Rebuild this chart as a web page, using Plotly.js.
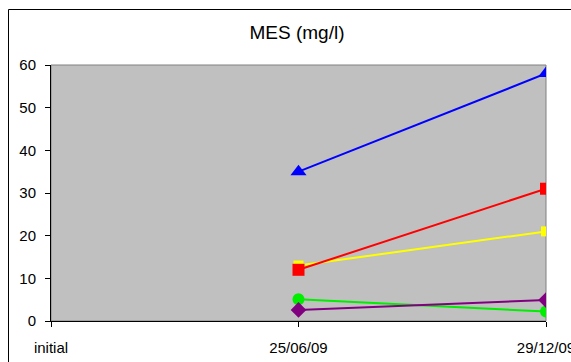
<!DOCTYPE html>
<html><head><meta charset="utf-8">
<script src="https://cdn.plot.ly/plotly-3.0.1.min.js"></script>
<style>body{margin:0;background:#fff}#c{width:571px;height:362px}</style>
</head><body><div id="c"></div>
<script>
var categories = ["initial", "25/06/09", "29/12/09"];
var blueVals   = [null, 35, 58];
var redVals    = [null, 12, 31];
var yellowVals = [null, 13, 21];
var greenVals  = [null, 5.1, 2.2];
var purpleVals = [null, 2.6, 4.9];
var yTicks = [0, 10, 20, 30, 40, 50, 60];

function tr(y, color, symbol, size) {
  return {x: categories, y: y, type: 'scatter', mode: 'lines+markers',
    line: {color: color, width: 2}, marker: {color: color, symbol: symbol, size: size},
    showlegend: false, hoverinfo: 'skip'};
}
var data = [
  tr(yellowVals, '#ffff00', 'square', 10),
  tr(redVals, '#ff0000', 'square', 12),
  tr(blueVals, '#0000ff', 'triangle-up', 14),
  tr(greenVals, '#00ee00', 'circle', 12),
  tr(purpleVals, '#800080', 'diamond', 12)
];
var L = 51, R = 546, T = 65, B = 321, W = 571, H = 362;
var pw = R - L, ph = B - T;
var layout = {
  width: W, height: H,
  margin: {l: L, r: W - R, t: T, b: H - B, pad: 0},
  paper_bgcolor: '#ffffff', plot_bgcolor: '#c0c0c0',
  font: {family: 'Liberation Sans, Arial, sans-serif', size: 15, color: '#000'},
  title: {text: 'MES (mg/l)', font: {size: 19, color: '#000'}, x: 297 / W, xref: 'container', xanchor: 'center',
          y: 1 - 32 / H, yref: 'container', yanchor: 'middle'},
  xaxis: {type: 'category', range: [0, 2], showgrid: false, zeroline: false,
    showline: true, linecolor: '#000', linewidth: 1, ticks: 'outside', ticklen: 5, tickcolor: '#000',
    tickfont: {size: 15}, ticklabelstandoff: 8, fixedrange: true},
  yaxis: {range: [0, 60], tickvals: yTicks, showgrid: false, zeroline: false,
    showline: true, linecolor: '#000', linewidth: 1, ticks: 'outside', ticklen: 5, tickcolor: '#000',
    tickfont: {size: 15}, ticklabelstandoff: 6, fixedrange: true},
  shapes: [
    {type: 'rect', xref: 'paper', yref: 'paper', x0: 0, x1: 1, y0: 0, y1: 1,
     line: {color: '#808080', width: 1}, fillcolor: 'rgba(0,0,0,0)', layer: 'below'},
    {type: 'rect', xref: 'paper', yref: 'paper',
     x0: (8.5 - L) / pw, x1: (600 - L) / pw, y0: (B - 400) / ph, y1: (B - 9.5) / ph,
     line: {color: '#000', width: 1}, fillcolor: 'rgba(0,0,0,0)', layer: 'above'}
  ]
};
Plotly.newPlot('c', data, layout, {displayModeBar: false, staticPlot: true});
</script></body></html>
